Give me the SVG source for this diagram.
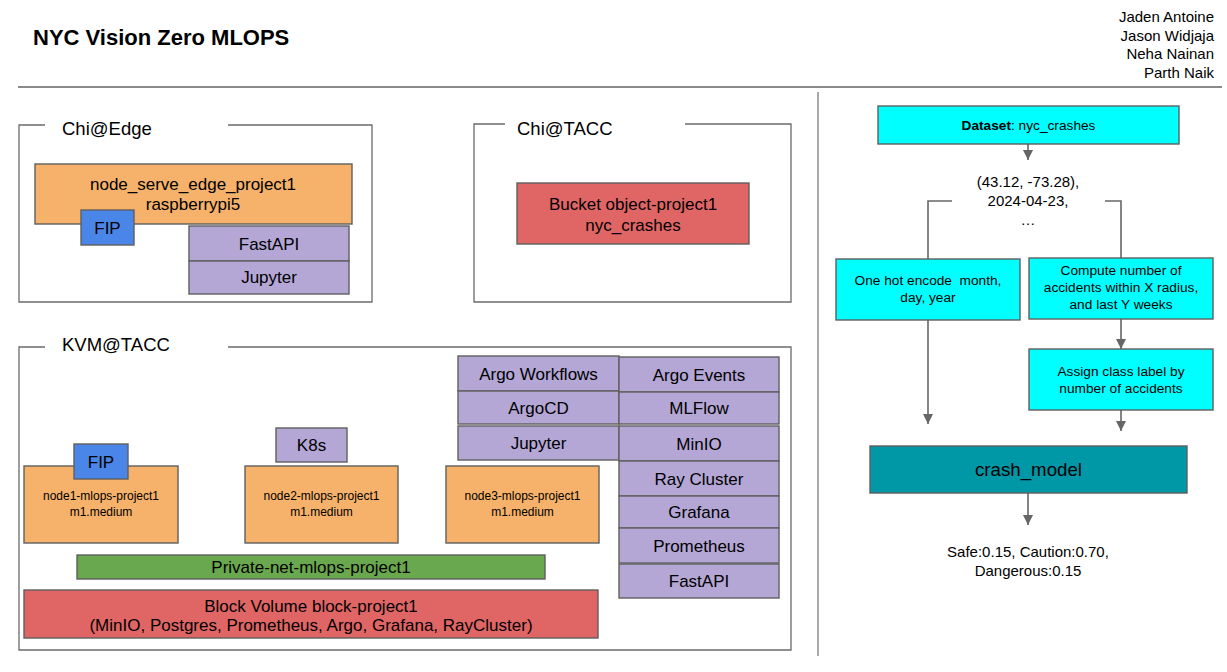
<svg xmlns="http://www.w3.org/2000/svg" width="1227" height="672" viewBox="0 0 1227 672">
<style>
text{font-family:"Liberation Sans",Arial,sans-serif;fill:#000;}
.t17{font-size:17px;text-anchor:middle;}
.t12{font-size:12px;text-anchor:middle;}
.t14{font-size:13.7px;text-anchor:middle;}
.t15{font-size:15px;text-anchor:middle;}
.lbl{font-size:18.5px;}
.frame{fill:none;stroke:#6b6b6b;stroke-width:1.3;}
.box{stroke:#5f5f5f;stroke-width:1.4;}
.orange{fill:#f6b26b;}
.purple{fill:#b4a7d6;}
.blue{fill:#4a86e8;}
.red{fill:#e06666;}
.green{fill:#6aa84f;}
.cyan{fill:#00ffff;}
.teal{fill:#0097a7;}
.conn{fill:none;stroke:#666;stroke-width:1.6;}
</style>
<defs>
<marker id="arr" markerUnits="userSpaceOnUse" markerWidth="10" markerHeight="10" refX="10" refY="5" orient="auto">
<path d="M0,0 L10,5 L0,10 z" fill="#666"/>
</marker>
</defs>
<rect width="1227" height="672" fill="#fff"/>

<g id="header">
<text x="33" y="45" style="font-size:22px;font-weight:bold;">NYC Vision Zero MLOPS</text>
<text x="1214" y="22" style="font-size:15px;text-anchor:end;">Jaden Antoine</text>
<text x="1214" y="41" style="font-size:15px;text-anchor:end;">Jason Widjaja</text>
<text x="1214" y="59" style="font-size:15px;text-anchor:end;">Neha Nainan</text>
<text x="1214" y="78" style="font-size:15px;text-anchor:end;">Parth Naik</text>
<line x1="18" y1="87" x2="1222" y2="87" stroke="#8a8a8a" stroke-width="2"/>
<line x1="818" y1="92" x2="818" y2="656" stroke="#555" stroke-width="1"/>
</g>

<g id="chi-edge">
<path class="frame" d="M45,125 H19 V302 H372 V125 H228"/>
<text class="lbl" x="62" y="135">Chi@Edge</text>
</g>
<g id="node_serve_edge">
<rect class="box orange" x="35" y="164" width="317" height="60"/>
<text class="t17" x="193" y="190">node_serve_edge_project1</text>
<text class="t17" x="193" y="210">raspberrypi5</text>
</g>
<g id="fip-edge">
<rect class="box blue" x="81" y="210" width="53" height="35"/>
<text class="t17" x="107.5" y="234">FIP</text>
</g>
<g id="edge-fastapi">
<rect class="box purple" x="189" y="226" width="160" height="35"/>
<text class="t17" x="269" y="250">FastAPI</text>
</g>
<g id="edge-jupyter">
<rect class="box purple" x="189" y="261" width="160" height="33"/>
<text class="t17" x="269" y="283">Jupyter</text>
</g>

<g id="chi-tacc">
<path class="frame" d="M505,124 H474 V302 H791 V124 H685"/>
<text class="lbl" x="517" y="135">Chi@TACC</text>
</g>
<g id="bucket">
<rect class="box red" x="517" y="183" width="232" height="61"/>
<text class="t17" x="633" y="210">Bucket object-project1</text>
<text class="t17" x="633" y="231">nyc_crashes</text>
</g>

<g id="kvm-tacc">
<path class="frame" d="M45,347 H19 V650 H791 V347 H228"/>
<text class="lbl" x="62" y="351">KVM@TACC</text>
</g>
<g id="node1">
<rect class="box orange" x="24" y="466" width="154" height="77"/>
<text class="t12" x="101" y="500">node1-mlops-project1</text>
<text class="t12" x="101" y="516">m1.medium</text>
</g>
<g id="fip-kvm">
<rect class="box blue" x="74" y="444" width="54" height="35"/>
<text class="t17" x="101" y="468">FIP</text>
</g>
<g id="node2">
<rect class="box orange" x="245" y="466" width="153" height="77"/>
<text class="t12" x="321.5" y="500">node2-mlops-project1</text>
<text class="t12" x="321.5" y="516">m1.medium</text>
</g>
<g id="k8s">
<rect class="box purple" x="276" y="428" width="71" height="34"/>
<text class="t17" x="311.5" y="451">K8s</text>
</g>
<g id="node3">
<rect class="box orange" x="446" y="466" width="153" height="77"/>
<text class="t12" x="522.5" y="500">node3-mlops-project1</text>
<text class="t12" x="522.5" y="516">m1.medium</text>
</g>
<g id="private-net">
<rect class="box green" x="77" y="555" width="468" height="24"/>
<text class="t17" x="311" y="573">Private-net-mlops-project1</text>
</g>
<g id="block-volume">
<rect class="box red" x="24" y="590" width="574" height="48"/>
<text class="t17" x="311" y="612">Block Volume block-project1</text>
<text class="t17" x="311" y="631">(MinIO, Postgres, Prometheus, Argo, Grafana, RayCluster)</text>
</g>

<g id="argo-workflows">
<rect class="box purple" x="458" y="356" width="161" height="35"/>
<text class="t17" x="538.5" y="380">Argo Workflows</text>
</g>
<g id="argocd">
<rect class="box purple" x="458" y="391" width="161" height="33"/>
<text class="t17" x="538.5" y="414">ArgoCD</text>
</g>
<g id="kvm-jupyter">
<rect class="box purple" x="458" y="426" width="161" height="34"/>
<text class="t17" x="538.5" y="449">Jupyter</text>
</g>
<g id="argo-events">
<rect class="box purple" x="619" y="357" width="160" height="35"/>
<text class="t17" x="699" y="381">Argo Events</text>
</g>
<g id="mlflow">
<rect class="box purple" x="619" y="392" width="160" height="32"/>
<text class="t17" x="699" y="414">MLFlow</text>
</g>
<g id="minio">
<rect class="box purple" x="619" y="426" width="160" height="35"/>
<text class="t17" x="699" y="450">MinIO</text>
</g>
<g id="ray-cluster">
<rect class="box purple" x="619" y="461" width="160" height="35"/>
<text class="t17" x="699" y="485">Ray Cluster</text>
</g>
<g id="grafana">
<rect class="box purple" x="619" y="496" width="160" height="32"/>
<text class="t17" x="699" y="518">Grafana</text>
</g>
<g id="prometheus">
<rect class="box purple" x="619" y="528" width="160" height="35"/>
<text class="t17" x="699" y="552">Prometheus</text>
</g>
<g id="kvm-fastapi">
<rect class="box purple" x="619" y="564" width="160" height="34"/>
<text class="t17" x="699" y="587">FastAPI</text>
</g>

<g id="connectors">
<line class="conn" x1="1028" y1="144" x2="1028" y2="160" marker-end="url(#arr)"/>
<polyline class="conn" points="952,201 928,201 928,259"/>
<polyline class="conn" points="1105,201 1121,201 1121,258"/>
<line class="conn" x1="928" y1="320" x2="928" y2="424" marker-end="url(#arr)"/>
<line class="conn" x1="1121" y1="319" x2="1121" y2="349" marker-end="url(#arr)"/>
<line class="conn" x1="1121" y1="410" x2="1121" y2="431" marker-end="url(#arr)"/>
<line class="conn" x1="1028" y1="493" x2="1028" y2="525" marker-end="url(#arr)"/>
</g>

<g id="dataset">
<rect class="box cyan" x="878" y="106" width="301" height="38"/>
<text class="t14" x="1028.5" y="130"><tspan font-weight="bold">Dataset</tspan>: nyc_crashes</text>
</g>
<g id="sample-row">
<text class="t15" x="1028" y="187">(43.12, -73.28),</text>
<text class="t15" x="1028" y="206">2024-04-23,</text>
<text class="t15" x="1028" y="225">…</text>
</g>
<g id="one-hot">
<rect class="box cyan" x="836" y="259" width="184" height="61"/>
<text class="t14" x="928" y="285" xml:space="preserve">One hot encode  month,</text>
<text class="t14" x="928" y="302">day, year</text>
</g>
<g id="compute">
<rect class="box cyan" x="1029" y="258" width="184" height="61"/>
<text class="t14" x="1121" y="275">Compute number of</text>
<text class="t14" x="1121" y="292">accidents within X radius,</text>
<text class="t14" x="1121" y="309">and last Y weeks</text>
</g>
<g id="assign">
<rect class="box cyan" x="1029" y="349" width="184" height="61"/>
<text class="t14" x="1121" y="376">Assign class label by</text>
<text class="t14" x="1121" y="393">number of accidents</text>
</g>
<g id="crash-model">
<rect class="box teal" x="870" y="446" width="317" height="47"/>
<text x="1028.5" y="476" style="font-size:18.7px;text-anchor:middle;">crash_model</text>
</g>
<g id="output">
<text class="t15" x="1028" y="557">Safe:0.15, Caution:0.70,</text>
<text class="t15" x="1028" y="576">Dangerous:0.15</text>
</g>
</svg>
